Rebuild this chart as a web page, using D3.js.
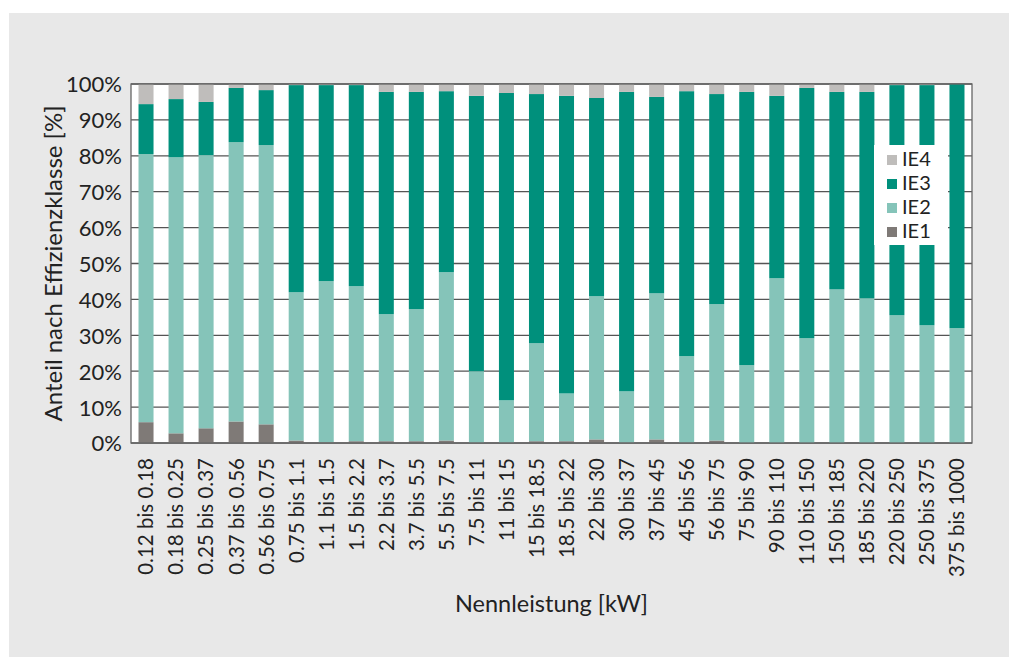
<!DOCTYPE html>
<html>
<head>
<meta charset="utf-8">
<script src="https://cdn.jsdelivr.net/npm/d3@7"></script>
<style>
  body { margin: 0; background: #fff; }
  svg text { font-family: Lato, "Noto Sans", sans-serif; fill: #222; }
</style>
</head>
<body>
<svg id="chart" width="1009" height="657"></svg>
<script>
// Nennleistung classes
const categories = ['0.12 bis 0.18', '0.18 bis 0.25', '0.25 bis 0.37', '0.37 bis 0.56', '0.56 bis 0.75',
  '0.75 bis 1.1', '1.1 bis 1.5', '1.5 bis 2.2', '2.2 bis 3.7', '3.7 bis 5.5', '5.5 bis 7.5',
  '7.5 bis 11', '11 bis 15', '15 bis 18.5', '18.5 bis 22', '22 bis 30', '30 bis 37', '37 bis 45',
  '45 bis 56', '56 bis 75', '75 bis 90', '90 bis 110', '110 bis 150', '150 bis 185', '185 bis 220',
  '220 bis 250', '250 bis 375', '375 bis 1000']

// share per efficiency class [%]
const ie1 = [5.8, 2.7, 4.1, 6.0, 5.2, 0.7, 0.2, 0.5, 0.5, 0.5, 0.7, 0.1, 0.1, 0.5, 0.5, 1.0, 0.1, 1.0,
  0.1, 0.7, 0, 0, 0, 0, 0, 0, 0, 0]
const ie2 = [74.7, 76.9, 76.1, 77.8, 77.8, 41.3, 44.9, 43.2, 35.4, 36.8, 46.9, 19.9, 11.8, 27.3, 13.3, 39.9, 14.3, 40.7,
  24.1, 38.0, 21.7, 45.9, 29.2, 42.8, 40.3, 35.6, 32.8, 32.0]
const ie3 = [13.9, 16.2, 14.8, 15.1, 15.3, 57.7, 54.6, 56.0, 61.9, 60.5, 50.4, 76.7, 85.6, 69.4, 82.9, 55.2, 83.4, 54.7,
  73.8, 58.5, 76.1, 50.8, 69.7, 55.0, 57.5, 64.1, 66.9, 68.0]
const ie4 = [5.6, 4.2, 5.0, 1.1, 1.7, 0.3, 0.3, 0.3, 2.2, 2.2, 2.0, 3.3, 2.5, 2.8, 3.3, 3.9, 2.2, 3.6,
  2.0, 2.8, 2.2, 3.3, 1.1, 2.2, 2.2, 0.3, 0.3, 0.0]

const yTicks = [0, 10, 20, 30, 40, 50, 60, 70, 80, 90, 100]
const seriesKeys = ['IE1', 'IE2', 'IE3', 'IE4']
const colors = { IE1: '#7f7a77', IE2: '#85c4b9', IE3: '#00907c', IE4: '#bfbdbb' }

const rows = categories.map((c, i) => ({ cat: c, IE1: ie1[i], IE2: ie2[i], IE3: ie3[i], IE4: ie4[i] }))

const svg = d3.select('#chart')
const margin = { left: 131, top: 84, right: 37, bottom: 214 }
const W = 1009, H = 657
const w = W - margin.left - margin.right
const h = H - margin.top - margin.bottom

// grey panel
svg.append('rect').attr('x', 9).attr('y', 13).attr('width', W - 9).attr('height', H - 13).attr('fill', '#e8e8e8')

const g = svg.append('g').attr('transform', `translate(${margin.left},${margin.top})`)

const x = d3.scaleBand().domain(categories).range([0, w]).paddingInner(0.5).paddingOuter(0.25)
const y = d3.scaleLinear().domain([0, 100]).range([h, 0])

g.append('rect').attr('width', w).attr('height', h).attr('fill', '#fff')

// gridlines
g.append('g').selectAll('line').data(yTicks).join('line')
  .attr('x1', 0).attr('x2', w)
  .attr('y1', d => y(d)).attr('y2', d => y(d))
  .attr('stroke', '#555').attr('stroke-width', 1.3)

// bars
const stacked = d3.stack().keys(seriesKeys)(rows)
g.append('g').selectAll('g').data(stacked).join('g')
  .attr('fill', d => colors[d.key])
  .selectAll('rect').data(d => d).join('rect')
    .attr('x', d => x(d.data.cat))
    .attr('width', x.bandwidth())
    .attr('y', d => y(d[1]))
    .attr('height', d => y(d[0]) - y(d[1]))

// frame
g.append('rect').attr('width', w).attr('height', h).attr('fill', 'none')
  .attr('stroke', '#666').attr('stroke-width', 1.3)

// y axis
const yAxis = g.append('g').call(d3.axisLeft(y).tickValues(yTicks).tickFormat(d => d + '%').tickSize(0).tickPadding(9))
yAxis.select('.domain').remove()
yAxis.selectAll('text').style('font-size', '22px').attr('dy', '0.36em')

// x axis
const xAxis = g.append('g').attr('transform', `translate(0,${h})`).call(d3.axisBottom(x).tickSize(0))
xAxis.select('.domain').remove()
xAxis.selectAll('text')
  .style('font-size', '20.5px')
  .attr('text-anchor', 'end')
  .attr('transform', 'rotate(-90)')
  .attr('x', -15).attr('y', 0).attr('dy', '0.36em')

// axis titles
svg.append('text').attr('transform', `translate(53,${margin.top + h / 2}) rotate(-90)`)
  .attr('text-anchor', 'middle').attr('dy', '0.36em').style('font-size', '24px')
  .text('Anteil nach Effizienzklasse [%]')
svg.append('text').attr('x', margin.left + w / 2).attr('y', 612)
  .attr('text-anchor', 'middle').style('font-size', '23.5px')
  .text('Nennleistung [kW]')

// legend
const legend = svg.append('g').attr('transform', 'translate(874,145)')
legend.append('rect').attr('width', 74).attr('height', 100).attr('fill', '#fff')
const items = seriesKeys.slice().reverse()
const li = legend.selectAll('g.item').data(items).join('g').attr('class', 'item')
  .attr('transform', (d, i) => `translate(13,${14 + i * 24})`)
li.append('rect').attr('width', 10).attr('height', 10).attr('y', -4).attr('fill', d => colors[d])
li.append('text').attr('x', 15).attr('dy', '0.36em').style('font-size', '20px').text(d => d)
</script>
</body>
</html>
